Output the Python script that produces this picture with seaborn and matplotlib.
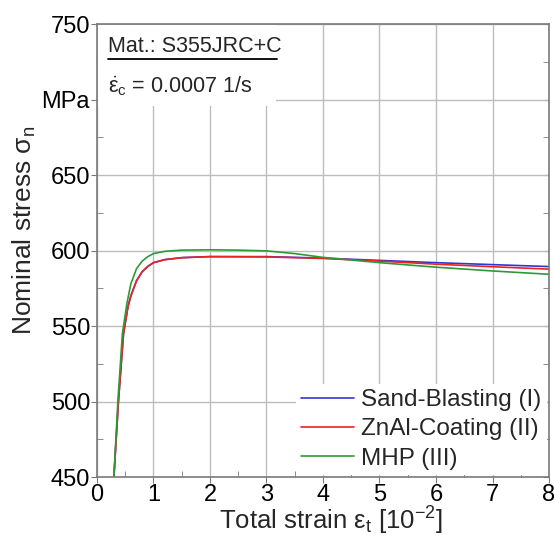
import matplotlib
matplotlib.use("Agg")
import matplotlib.pyplot as plt
import numpy as np
import pandas as pd
import seaborn as sns

# values
strain_sb = [0.3, 0.38, 0.47, 0.55, 0.6, 0.7, 0.8, 0.9, 1.0, 1.2, 1.5, 2.0, 3.0, 4.0, 5.0, 6.0, 7.0, 8.0]
stress_sb = [450, 500, 545, 563, 570, 580, 586, 589.5, 592, 594, 595.3, 596, 596, 595, 593.5, 592, 590.7, 589.4]

strain_zn = [0.3, 0.38, 0.47, 0.55, 0.6, 0.7, 0.8, 0.9, 1.0, 1.2, 1.5, 2.0, 3.0, 4.0, 5.0, 6.0, 7.0, 8.0]
stress_zn = [450, 500, 545, 563, 570, 580, 586, 589.5, 592, 594, 595.3, 596, 595.8, 594.8, 593, 591, 589.3, 587.7]

strain_mhp = [0.3, 0.37, 0.45, 0.53, 0.6, 0.7, 0.8, 0.9, 1.0, 1.2, 1.5, 2.0, 2.5, 3.0, 3.5, 4.0, 5.0, 6.0, 7.0, 8.0]
stress_mhp = [450, 500, 545, 565, 578, 588, 593, 596, 598, 599.5, 600.3, 600.5, 600.3, 599.8, 598, 595.5, 592, 589, 586.5, 584.3]

series_names = ["Sand-Blasting (I)", "ZnAl-Coating (II)", "MHP (III)"]
series_colors = ["#3333d6", "#e82424", "#2f9a35"]

x_ticks = [0, 1, 2, 3, 4, 5, 6, 7, 8]
y_ticks = [450, 500, 550, 600, 650, 700, 750]
y_tick_labels = ["450", "500", "550", "600", "650", "MPa", "750"]

df = pd.concat([
    pd.DataFrame({"strain": strain_sb, "stress": stress_sb, "series": series_names[0]}),
    pd.DataFrame({"strain": strain_zn, "stress": stress_zn, "series": series_names[1]}),
    pd.DataFrame({"strain": strain_mhp, "stress": stress_mhp, "series": series_names[2]}),
], ignore_index=True)

sns.set_style("white")
plt.rcParams["font.family"] = ["Liberation Sans", "DejaVu Sans"]
plt.rcParams["mathtext.fontset"] = "custom"
plt.rcParams["mathtext.rm"] = "Liberation Sans"
plt.rcParams["mathtext.it"] = "Liberation Sans"

fig = plt.figure(figsize=(5.54, 5.36), dpi=100)
ax = fig.add_axes([0.175, 0.110, 0.816, 0.845])

sns.lineplot(data=df, x="strain", y="stress", hue="series", palette=series_colors,
             hue_order=series_names, sort=False, estimator=None, linewidth=1.2, ax=ax)

ax.set_xlim(0, 8)
ax.set_ylim(450, 750)
ax.set_xticks(x_ticks)
ax.set_xticks(np.arange(0.5, 8, 1.0), minor=True)
ax.set_yticks(y_ticks)
ax.set_yticklabels(y_tick_labels)
ax.set_yticks(np.arange(475, 750, 50), minor=True)
ax.grid(True, which="major", color="#bdbdbd", linewidth=1.0)
ax.set_axisbelow(True)

for s in ax.spines.values():
    s.set_color("#7a7a7a")
    s.set_linewidth(1.2)

# major ticks outward, minor ticks inward
ax.tick_params(axis="both", which="both", colors="#7a7a7a", labelcolor="black",
               labelsize=17, pad=1, bottom=True, left=True)
ax.tick_params(axis="both", which="major", direction="out", length=4)
ax.tick_params(axis="both", which="minor", direction="in", length=4)

ry = ax.secondary_yaxis("right")
ry.set_yticks(y_ticks)
ry.set_yticks(np.arange(475, 750, 50), minor=True)
ry.tick_params(axis="y", which="both", direction="in", labelright=False,
               colors="#7a7a7a", length=4)
ry.spines["right"].set_visible(False)

ax.set_xlabel(r"Total strain ε$_\mathrm{t}$ [10$^{-2}$]", fontsize=18.5)
ax.xaxis.set_label_coords(0.517, -0.062)
ax.set_ylabel(r"Nominal stress σ$_\mathrm{n}$", fontsize=19)
ax.yaxis.set_label_coords(-0.13, 0.545)

# white box behind the material note
ax.add_patch(plt.Rectangle((0.002, 0.82), 0.395, 0.178, transform=ax.transAxes,
                           facecolor="white", edgecolor="none", zorder=1.5))
ax.text(0.025, 0.951, "Mat.: S355JRC+C", transform=ax.transAxes, fontsize=15.5,
        ha="left", va="center", zorder=3)
ax.plot([0.024, 0.398], [0.922, 0.922], transform=ax.transAxes, color="black",
        linewidth=1.3, zorder=3)
ax.text(0.025, 0.862, r"$\dot{\varepsilon}_\mathrm{c}$ = 0.0007 1/s", transform=ax.transAxes,
        fontsize=15.5, ha="left", va="center", zorder=3)

leg = ax.legend(loc="lower right", frameon=True, fontsize=17.5, handlelength=2.2,
                handletextpad=0.3, borderaxespad=0.1, labelspacing=0.3,
                borderpad=0.2)
leg.get_frame().set_facecolor("white")
leg.get_frame().set_edgecolor("none")
leg.get_frame().set_alpha(1.0)
for line in leg.get_lines():
    line.set_linewidth(1.2)

fig.savefig("out.png", dpi=100)
